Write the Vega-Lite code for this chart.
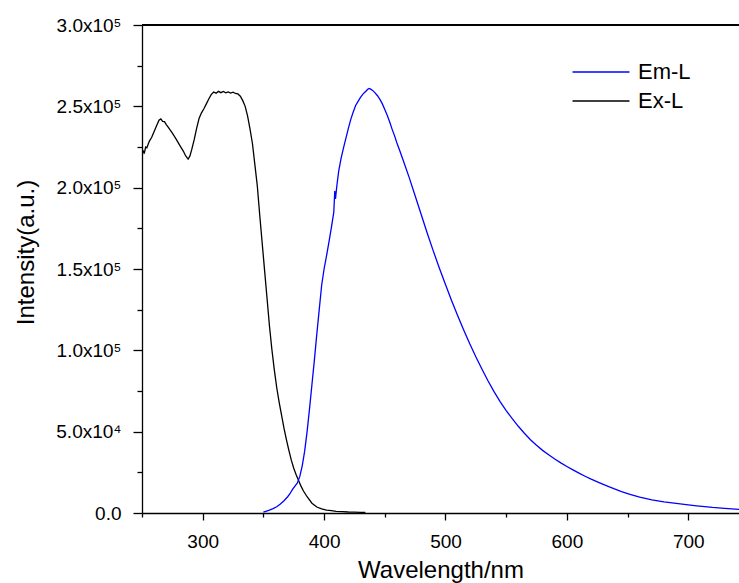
{
  "$schema": "https://vega.github.io/schema/vega-lite/v6.json",
  "width": 597,
  "height": 488,
  "autosize": {"type": "none"},
  "padding": {"left": 142, "top": 25, "right": 0, "bottom": 70},
  "background": "white",
  "config": {
    "view": {"stroke": null},
    "font": "Liberation Sans",
    "axis": {"domainColor": "black", "domainWidth": 1.3, "tickColor": "black", "tickWidth": 1.3, "labelColor": "black", "titleColor": "black", "grid": false, "labelFont": "Liberation Sans", "titleFont": "Liberation Sans", "titleFontWeight": "normal"},
    "legend": {"labelFont": "Liberation Sans"}
  },
  "data": {"values": [
    {"series": "Ex-L", "wl": 250, "v": 219000},
    {"series": "Ex-L", "wl": 251, "v": 222500},
    {"series": "Ex-L", "wl": 252, "v": 221500},
    {"series": "Ex-L", "wl": 253, "v": 225000},
    {"series": "Ex-L", "wl": 254, "v": 224500},
    {"series": "Ex-L", "wl": 256, "v": 228500},
    {"series": "Ex-L", "wl": 258, "v": 231000},
    {"series": "Ex-L", "wl": 260, "v": 234500},
    {"series": "Ex-L", "wl": 262, "v": 238000},
    {"series": "Ex-L", "wl": 264, "v": 241500},
    {"series": "Ex-L", "wl": 265.5, "v": 242300},
    {"series": "Ex-L", "wl": 267, "v": 240800},
    {"series": "Ex-L", "wl": 268.5, "v": 240600},
    {"series": "Ex-L", "wl": 270, "v": 238800},
    {"series": "Ex-L", "wl": 272, "v": 236800},
    {"series": "Ex-L", "wl": 275, "v": 233500},
    {"series": "Ex-L", "wl": 278, "v": 230000},
    {"series": "Ex-L", "wl": 281, "v": 226200},
    {"series": "Ex-L", "wl": 284, "v": 222500},
    {"series": "Ex-L", "wl": 286, "v": 219500},
    {"series": "Ex-L", "wl": 288, "v": 217600},
    {"series": "Ex-L", "wl": 289.5, "v": 219500},
    {"series": "Ex-L", "wl": 291, "v": 223500},
    {"series": "Ex-L", "wl": 293, "v": 229500},
    {"series": "Ex-L", "wl": 295, "v": 236500},
    {"series": "Ex-L", "wl": 297, "v": 242500},
    {"series": "Ex-L", "wl": 299, "v": 246000},
    {"series": "Ex-L", "wl": 301, "v": 248500},
    {"series": "Ex-L", "wl": 303, "v": 251500},
    {"series": "Ex-L", "wl": 305, "v": 254500},
    {"series": "Ex-L", "wl": 307, "v": 257200},
    {"series": "Ex-L", "wl": 309, "v": 258800},
    {"series": "Ex-L", "wl": 311, "v": 258100},
    {"series": "Ex-L", "wl": 313, "v": 259200},
    {"series": "Ex-L", "wl": 315, "v": 258400},
    {"series": "Ex-L", "wl": 317, "v": 259100},
    {"series": "Ex-L", "wl": 319, "v": 258300},
    {"series": "Ex-L", "wl": 321, "v": 258900},
    {"series": "Ex-L", "wl": 323, "v": 258100},
    {"series": "Ex-L", "wl": 325, "v": 258700},
    {"series": "Ex-L", "wl": 327, "v": 257900},
    {"series": "Ex-L", "wl": 329, "v": 257600},
    {"series": "Ex-L", "wl": 331, "v": 256200},
    {"series": "Ex-L", "wl": 333, "v": 253500},
    {"series": "Ex-L", "wl": 335, "v": 250000},
    {"series": "Ex-L", "wl": 337, "v": 244000},
    {"series": "Ex-L", "wl": 339, "v": 236000},
    {"series": "Ex-L", "wl": 341, "v": 227000},
    {"series": "Ex-L", "wl": 343, "v": 214000},
    {"series": "Ex-L", "wl": 345, "v": 201000},
    {"series": "Ex-L", "wl": 347, "v": 183000},
    {"series": "Ex-L", "wl": 349, "v": 166000},
    {"series": "Ex-L", "wl": 351, "v": 149000},
    {"series": "Ex-L", "wl": 353, "v": 132000},
    {"series": "Ex-L", "wl": 355, "v": 115000},
    {"series": "Ex-L", "wl": 357, "v": 100500},
    {"series": "Ex-L", "wl": 359, "v": 88000},
    {"series": "Ex-L", "wl": 361, "v": 77000},
    {"series": "Ex-L", "wl": 363, "v": 68000},
    {"series": "Ex-L", "wl": 365, "v": 60000},
    {"series": "Ex-L", "wl": 367, "v": 52000},
    {"series": "Ex-L", "wl": 369, "v": 45000},
    {"series": "Ex-L", "wl": 371, "v": 38500},
    {"series": "Ex-L", "wl": 373, "v": 32500},
    {"series": "Ex-L", "wl": 375, "v": 27500},
    {"series": "Ex-L", "wl": 377, "v": 23500},
    {"series": "Ex-L", "wl": 379, "v": 20000},
    {"series": "Ex-L", "wl": 381, "v": 16500},
    {"series": "Ex-L", "wl": 383, "v": 13500},
    {"series": "Ex-L", "wl": 386, "v": 10000},
    {"series": "Ex-L", "wl": 390, "v": 6000},
    {"series": "Ex-L", "wl": 394, "v": 3700},
    {"series": "Ex-L", "wl": 398, "v": 2500},
    {"series": "Ex-L", "wl": 402, "v": 1800},
    {"series": "Ex-L", "wl": 406, "v": 1400},
    {"series": "Ex-L", "wl": 410, "v": 1000},
    {"series": "Ex-L", "wl": 415, "v": 800},
    {"series": "Ex-L", "wl": 420, "v": 600},
    {"series": "Ex-L", "wl": 425, "v": 500},
    {"series": "Ex-L", "wl": 430, "v": 400},
    {"series": "Ex-L", "wl": 434, "v": 300},
    {"series": "Em-L", "wl": 350, "v": 500},
    {"series": "Em-L", "wl": 352, "v": 1000},
    {"series": "Em-L", "wl": 355, "v": 1800},
    {"series": "Em-L", "wl": 358, "v": 2700},
    {"series": "Em-L", "wl": 361, "v": 3800},
    {"series": "Em-L", "wl": 364, "v": 5500},
    {"series": "Em-L", "wl": 367, "v": 7500},
    {"series": "Em-L", "wl": 370, "v": 10000},
    {"series": "Em-L", "wl": 372, "v": 12000},
    {"series": "Em-L", "wl": 374, "v": 14500},
    {"series": "Em-L", "wl": 376, "v": 16500},
    {"series": "Em-L", "wl": 378, "v": 18500},
    {"series": "Em-L", "wl": 380, "v": 22500},
    {"series": "Em-L", "wl": 382, "v": 29000},
    {"series": "Em-L", "wl": 384, "v": 38000},
    {"series": "Em-L", "wl": 386, "v": 50000},
    {"series": "Em-L", "wl": 388, "v": 64000},
    {"series": "Em-L", "wl": 390, "v": 79000},
    {"series": "Em-L", "wl": 392, "v": 94000},
    {"series": "Em-L", "wl": 394, "v": 110000},
    {"series": "Em-L", "wl": 396, "v": 125000},
    {"series": "Em-L", "wl": 398, "v": 140000},
    {"series": "Em-L", "wl": 400, "v": 150000},
    {"series": "Em-L", "wl": 402, "v": 158000},
    {"series": "Em-L", "wl": 404, "v": 166500},
    {"series": "Em-L", "wl": 406, "v": 175500},
    {"series": "Em-L", "wl": 408, "v": 185000},
    {"series": "Em-L", "wl": 408.8, "v": 198000},
    {"series": "Em-L", "wl": 409.4, "v": 193000},
    {"series": "Em-L", "wl": 410.5, "v": 201000},
    {"series": "Em-L", "wl": 412, "v": 210000},
    {"series": "Em-L", "wl": 414, "v": 218000},
    {"series": "Em-L", "wl": 416, "v": 224500},
    {"series": "Em-L", "wl": 418, "v": 230500},
    {"series": "Em-L", "wl": 420, "v": 236500},
    {"series": "Em-L", "wl": 422, "v": 242000},
    {"series": "Em-L", "wl": 424, "v": 246500},
    {"series": "Em-L", "wl": 426, "v": 250500},
    {"series": "Em-L", "wl": 428, "v": 253000},
    {"series": "Em-L", "wl": 430, "v": 255500},
    {"series": "Em-L", "wl": 432, "v": 257500},
    {"series": "Em-L", "wl": 434, "v": 259000},
    {"series": "Em-L", "wl": 436, "v": 260500},
    {"series": "Em-L", "wl": 437, "v": 261000},
    {"series": "Em-L", "wl": 438, "v": 260700},
    {"series": "Em-L", "wl": 440, "v": 259800},
    {"series": "Em-L", "wl": 442, "v": 258300},
    {"series": "Em-L", "wl": 444, "v": 256500},
    {"series": "Em-L", "wl": 446, "v": 254300},
    {"series": "Em-L", "wl": 448, "v": 251500},
    {"series": "Em-L", "wl": 450, "v": 248000},
    {"series": "Em-L", "wl": 452, "v": 244500},
    {"series": "Em-L", "wl": 454, "v": 240500},
    {"series": "Em-L", "wl": 456, "v": 236000},
    {"series": "Em-L", "wl": 458, "v": 232000},
    {"series": "Em-L", "wl": 460, "v": 227500},
    {"series": "Em-L", "wl": 462, "v": 223500},
    {"series": "Em-L", "wl": 465, "v": 217200},
    {"series": "Em-L", "wl": 470, "v": 206500},
    {"series": "Em-L", "wl": 475, "v": 195000},
    {"series": "Em-L", "wl": 480, "v": 183500},
    {"series": "Em-L", "wl": 485, "v": 172000},
    {"series": "Em-L", "wl": 490, "v": 161000},
    {"series": "Em-L", "wl": 495, "v": 150500},
    {"series": "Em-L", "wl": 500, "v": 140500},
    {"series": "Em-L", "wl": 505, "v": 130700},
    {"series": "Em-L", "wl": 510, "v": 121400},
    {"series": "Em-L", "wl": 515, "v": 112500},
    {"series": "Em-L", "wl": 520, "v": 104000},
    {"series": "Em-L", "wl": 525, "v": 96000},
    {"series": "Em-L", "wl": 530, "v": 88500},
    {"series": "Em-L", "wl": 535, "v": 81300},
    {"series": "Em-L", "wl": 540, "v": 74600},
    {"series": "Em-L", "wl": 545, "v": 68500},
    {"series": "Em-L", "wl": 550, "v": 63000},
    {"series": "Em-L", "wl": 555, "v": 58000},
    {"series": "Em-L", "wl": 560, "v": 53300},
    {"series": "Em-L", "wl": 565, "v": 49000},
    {"series": "Em-L", "wl": 570, "v": 45000},
    {"series": "Em-L", "wl": 575, "v": 41600},
    {"series": "Em-L", "wl": 580, "v": 38500},
    {"series": "Em-L", "wl": 585, "v": 35800},
    {"series": "Em-L", "wl": 590, "v": 33200},
    {"series": "Em-L", "wl": 595, "v": 30800},
    {"series": "Em-L", "wl": 600, "v": 28600},
    {"series": "Em-L", "wl": 605, "v": 26500},
    {"series": "Em-L", "wl": 610, "v": 24500},
    {"series": "Em-L", "wl": 615, "v": 22600},
    {"series": "Em-L", "wl": 620, "v": 20800},
    {"series": "Em-L", "wl": 627, "v": 18500},
    {"series": "Em-L", "wl": 635, "v": 16000},
    {"series": "Em-L", "wl": 645, "v": 13200},
    {"series": "Em-L", "wl": 652, "v": 11400},
    {"series": "Em-L", "wl": 660, "v": 9700},
    {"series": "Em-L", "wl": 670, "v": 8100},
    {"series": "Em-L", "wl": 680, "v": 6900},
    {"series": "Em-L", "wl": 690, "v": 5900},
    {"series": "Em-L", "wl": 700, "v": 5000},
    {"series": "Em-L", "wl": 707, "v": 4400},
    {"series": "Em-L", "wl": 720, "v": 3400},
    {"series": "Em-L", "wl": 730, "v": 2800},
    {"series": "Em-L", "wl": 742, "v": 2200}
  ]},
  "layer": [
    {
      "mark": {"type": "line", "strokeWidth": 1.3, "clip": true},
      "encoding": {
        "x": {
          "field": "wl", "type": "quantitative",
          "scale": {"domain": [250, 741.8], "nice": false, "zero": false},
          "axis": {
            "values": [250, 300, 350, 400, 450, 500, 550, 600, 650, 700],
            "labelExpr": "datum.value % 100 == 0 ? datum.label : ''",
            "labelFontSize": 19,
            "labelPadding": 12,
            "labelFlush": false,
            "tickSize": {"condition": {"test": "datum.value % 100 == 0", "value": 7}, "value": 4},
            "title": "Wavelength/nm",
            "titleFontSize": 24,
            "titleBaseline": "alphabetic",
            "titleY": 64
          }
        },
        "y": {
          "field": "v", "type": "quantitative",
          "scale": {"domain": [0, 300000], "nice": false},
          "axis": {
            "values": [0, 25000, 50000, 75000, 100000, 125000, 150000, 175000, 200000, 225000, 250000, 275000, 300000],
            "labelExpr": "datum.value == 0 ? '0.0' : datum.value == 50000 ? '5.0x10⁴' : datum.value == 100000 ? '1.0x10⁵' : datum.value == 150000 ? '1.5x10⁵' : datum.value == 200000 ? '2.0x10⁵' : datum.value == 250000 ? '2.5x10⁵' : datum.value == 300000 ? '3.0x10⁵' : ''",
            "labelFontSize": 19,
            "labelPadding": 12,
            "labelFlush": false,
            "tickSize": {"condition": {"test": "datum.value % 50000 == 0", "value": 9}, "value": 5},
            "title": "Intensity(a.u.)",
            "titleFontSize": 24,
            "titleAngle": -90,
            "titleAlign": "center",
            "titleBaseline": "alphabetic",
            "titleX": -109,
            "titleY": 227
          }
        },
        "color": {
          "field": "series", "type": "nominal",
          "scale": {"domain": ["Em-L", "Ex-L"], "range": ["#0000ff", "#000000"]},
          "legend": {
            "title": null,
            "orient": "none",
            "legendX": 444,
            "legendY": 32,
            "padding": 0,
            "symbolType": "M-2,0H2",
            "symbolSize": 812,
            "symbolStrokeWidth": 1.3,
            "labelFontSize": 22,
            "labelColor": "black",
            "labelOffset": 22,
            "rowPadding": 3
          }
        }
      }
    },
    {
      "mark": {"type": "rule", "color": "black", "strokeWidth": 1.3},
      "encoding": {"y": {"datum": 300000}}
    }
  ]
}
